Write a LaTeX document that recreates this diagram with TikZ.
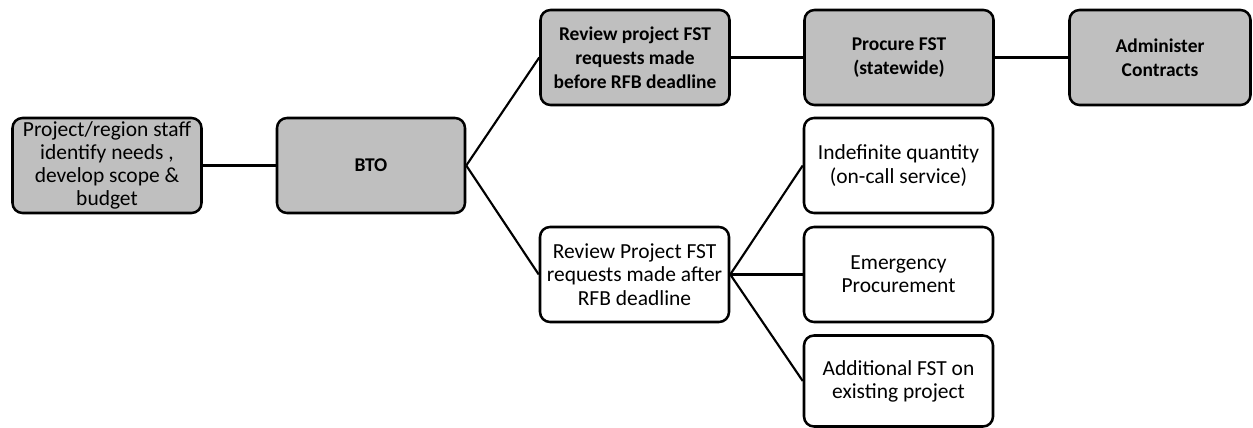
\documentclass[tikz,border=0pt]{standalone}
\usepackage{fontspec}
\setmainfont{Carlito}
\begin{document}
\begin{tikzpicture}[x=0.75pt,y=-0.75pt,
  box/.style={draw=black,line width=1.9pt,rounded corners=7.5pt,align=center,
    minimum width=189*0.75pt,minimum height=95*0.75pt,inner sep=1pt,
    font=\fontsize{16.1pt}{17.4pt}\selectfont},
  bold/.style={font=\fontsize{14.6pt}{18pt}\selectfont\bfseries},
  gbox/.style={box,fill=gray!50},
  wbox/.style={box,fill=white},
  conn/.style={line width=1.6pt}]
\useasboundingbox (0,0) rectangle (1253,428);
\node[gbox] (a) at (107,165.5) {Project/region staff\\identify needs ,\\develop scope \&\\budget};
\node[gbox,bold,minimum width=188*0.75pt] (bto) at (371,165.5) {BTO};
\node[gbox,bold] (rb) at (635,57.5) {Review project FST\\requests made\\before RFB deadline};
\node[gbox,bold] (pr) at (899,57.5) {Procure FST\\(statewide)};
\node[gbox,bold,minimum width=181*0.75pt] (ad) at (1160,57.5) {Administer\\Contracts};
\node[wbox] (ra) at (634.5,274.5) {Review Project FST\\requests made after\\RFB deadline};
\node[wbox] (iq) at (898.5,165.5) {Indefinite quantity\\(on-call service)};
\node[wbox] (em) at (898.5,274.5) {Emergency\\Procurement};
\node[wbox,minimum height=91*0.75pt] (af) at (898.5,381) {Additional FST on\\existing project};
\draw[conn] (a.east) -- (bto.west);
\draw[conn] (bto.east) -- (rb.west);
\draw[conn] (bto.east) -- (ra.west);
\draw[conn] (rb.east) -- (pr.west);
\draw[conn] (pr.east) -- (ad.west);
\draw[conn] (ra.east) -- (iq.west);
\draw[conn] (ra.east) -- (em.west);
\draw[conn] (ra.east) -- (af.west);
\end{tikzpicture}
\end{document}
